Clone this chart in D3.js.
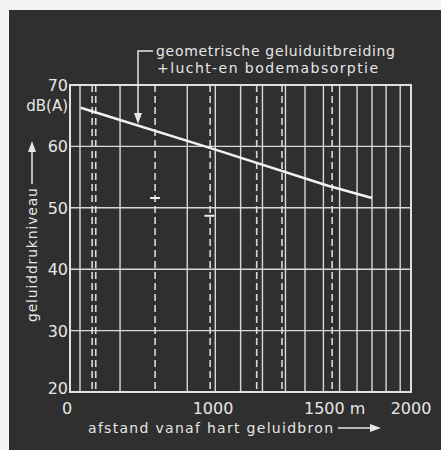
<!DOCTYPE html>
<html>
<head>
<meta charset="utf-8">
<script src="https://cdn.jsdelivr.net/npm/d3@7"></script>
<style>
  body { margin: 0; background: #f4f4f4; }
  svg text { font-family: "DejaVu Sans", sans-serif; fill: #e6e6e6; }
</style>
</head>
<body>
<div id="chart"></div>
<script>
// waarden
const xTicks = [0, 1000, 1500, 2000];
const xTickLabels = ["0", "1000", "1500 m", "2000"];
const yTicks = [20, 30, 40, 50, 60, 70];
// doorgetrokken verticale lijnen (m)
const solidLines = [70, 350, 820, 1010, 1120, 1215, 1315, 1400, 1480, 1570, 1675, 1765, 1850, 1935];
// gestreepte verticale lijnen (m)
const dashedLines = [155, 180, 595, 980, 1190, 1300, 1525];
// geluidniveau langs de afstand
const curveDist = [75, 1000, 1500, 1765];
const curveDb = [66.3, 59.6, 53.6, 51.6];
// korte streepjes op de gestreepte lijnen
const markDist = [595, 975];
const markDb = [51.6, 48.7];

const width = 441, height = 450;
const plot = {left: 70, right: 411, top: 85, bottom: 392};

const svg = d3.select("#chart")
    .append("svg")
    .attr("width", width)
    .attr("height", height);

// donkere achtergrond van de scan
svg.append("rect")
    .attr("x", 9).attr("y", 10)
    .attr("width", width - 9).attr("height", height - 10)
    .attr("fill", "#2f2f2f");

// x-as is niet lineair getekend in het origineel
const x = d3.scaleLinear()
    .domain([0, 1000, 1500, 2000])
    .range([plot.left, 213, 328, plot.right]);

const y = d3.scaleLinear()
    .domain([20, 70])
    .range([plot.bottom, plot.top]);

const grid = svg.append("g").attr("stroke", "#d9d9d9");

grid.selectAll(".h")
    .data(yTicks)
    .join("line")
    .attr("x1", plot.left).attr("x2", plot.right)
    .attr("y1", d => y(d)).attr("y2", d => y(d))
    .attr("stroke-width", 1.4);

grid.selectAll(".v")
    .data(solidLines)
    .join("line")
    .attr("x1", d => x(d)).attr("x2", d => x(d))
    .attr("y1", plot.top).attr("y2", plot.bottom)
    .attr("stroke-width", 1.4);

grid.selectAll(".d")
    .data(dashedLines)
    .join("line")
    .attr("x1", d => x(d)).attr("x2", d => x(d))
    .attr("y1", plot.top).attr("y2", plot.bottom)
    .attr("stroke-width", 1.6)
    .attr("stroke-dasharray", "7,4");

// kader
svg.append("rect")
    .attr("x", plot.left).attr("y", plot.top)
    .attr("width", plot.right - plot.left)
    .attr("height", plot.bottom - plot.top)
    .attr("fill", "none")
    .attr("stroke", "#e0e0e0")
    .attr("stroke-width", 2);

// streepjes
svg.selectAll(".mark")
    .data(markDist)
    .join("line")
    .attr("x1", d => x(d) - 5).attr("x2", d => x(d) + 5)
    .attr("y1", (d, i) => y(markDb[i])).attr("y2", (d, i) => y(markDb[i]))
    .attr("stroke", "#eeeeee")
    .attr("stroke-width", 2);

// geluidlijn
const line = d3.line()
    .x(d => x(d[0]))
    .y(d => y(d[1]));

svg.append("path")
    .datum(d3.zip(curveDist, curveDb))
    .attr("d", line)
    .attr("fill", "none")
    .attr("stroke", "#f2f2f2")
    .attr("stroke-width", 2.5);

// y-as labels
svg.selectAll(".ylab")
    .data(yTicks)
    .join("text")
    .attr("x", plot.left - 2)
    .attr("y", d => y(d) + (d == 20 ? 2 : 6))
    .attr("text-anchor", "end")
    .attr("font-size", 16)
    .text(d => d);

svg.append("text")
    .attr("x", plot.left - 2)
    .attr("y", 111)
    .attr("text-anchor", "end")
    .attr("font-size", 15)
    .text("dB(A)");

// x-as labels
svg.selectAll(".xlab")
    .data(xTicks)
    .join("text")
    .attr("x", (d, i) => i == 2 ? x(d) - 24 : x(d) - (i == 0 ? 3 : 0))
    .attr("y", 414)
    .attr("text-anchor", (d, i) => i == 2 ? "start" : "middle")
    .attr("font-size", 16)
    .text((d, i) => xTickLabels[i]);

// astitels met pijl
svg.append("text")
    .attr("x", 88).attr("y", 433)
    .attr("font-size", 14)
    .attr("textLength", 245)
    .text("afstand vanaf hart geluidbron");

svg.append("line")
    .attr("x1", 338).attr("x2", 372)
    .attr("y1", 428).attr("y2", 428)
    .attr("stroke", "#e6e6e6").attr("stroke-width", 1.5);
svg.append("path")
    .attr("d", "M370,424 L381,428 L370,432 Z")
    .attr("fill", "#e6e6e6");

svg.append("text")
    .attr("transform", "translate(37,322) rotate(-90)")
    .attr("font-size", 14)
    .attr("textLength", 134)
    .text("geluiddrukniveau");

svg.append("line")
    .attr("x1", 32).attr("x2", 32)
    .attr("y1", 184).attr("y2", 150)
    .attr("stroke", "#e6e6e6").attr("stroke-width", 1.5);
svg.append("path")
    .attr("d", "M28,152 L32,141 L36,152 Z")
    .attr("fill", "#e6e6e6");

// toelichting
svg.append("text")
    .attr("x", 156).attr("y", 56)
    .attr("font-size", 14)
    .attr("textLength", 239)
    .text("geometrische geluiduitbreiding");

svg.append("text")
    .attr("x", 157).attr("y", 73)
    .attr("font-size", 14)
    .attr("textLength", 221)
    .text("+lucht-en bodemabsorptie");

svg.append("path")
    .attr("d", "M153,51 H138 V114")
    .attr("fill", "none")
    .attr("stroke", "#e6e6e6").attr("stroke-width", 1.5);
svg.append("path")
    .attr("d", "M134,113 L138,124 L142,113 Z")
    .attr("fill", "#e6e6e6");
</script>
</body>
</html>
